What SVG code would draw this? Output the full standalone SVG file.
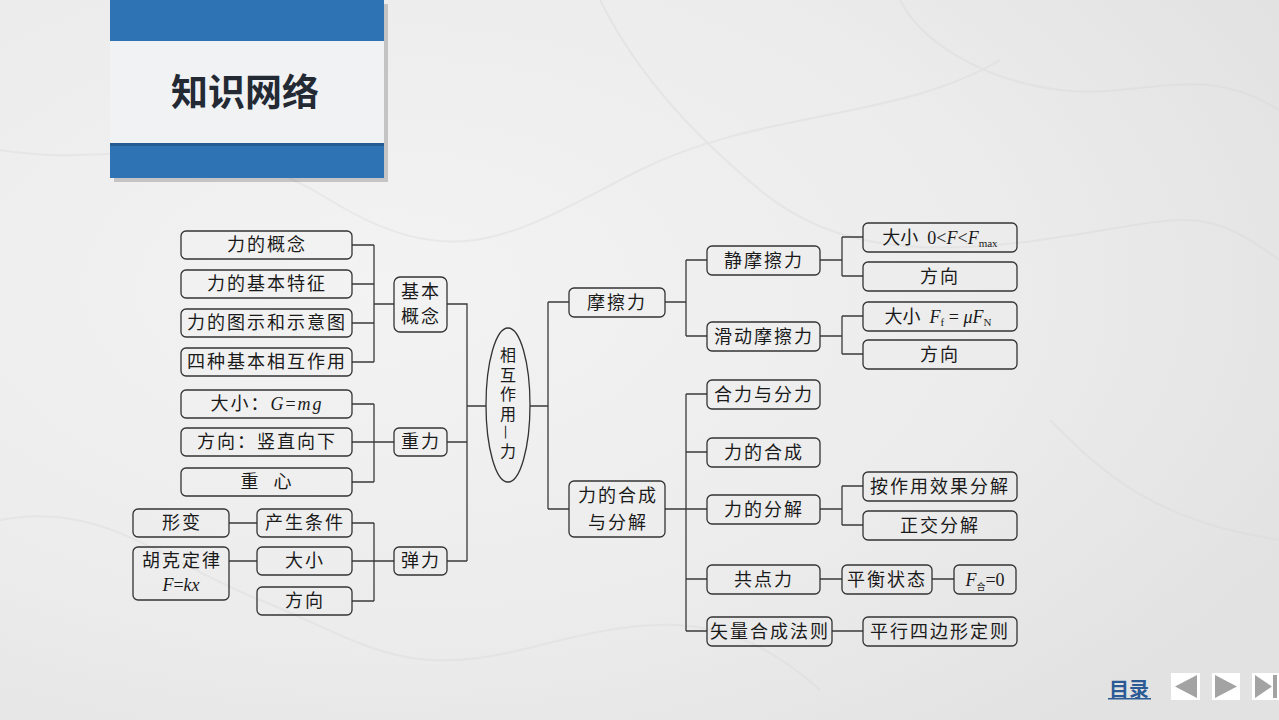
<svg xmlns="http://www.w3.org/2000/svg" width="1279" height="720" viewBox="0 0 1279 720">
<defs>
<radialGradient id="bg1" cx="0.3" cy="0.4" r="0.8">
<stop offset="0" stop-color="#f3f3f3"/>
<stop offset="0.6" stop-color="#ececec"/>
<stop offset="1" stop-color="#e2e2e2"/>
</radialGradient>
<style>
.b{fill:none;stroke:#333;stroke-width:1.3}
.c{fill:none;stroke:#3a3a3a;stroke-width:1.3}
.t{font-family:"Liberation Serif","Noto Sans CJK SC",serif;font-size:18px;fill:#1a1a1a;text-anchor:middle;letter-spacing:2px}
.m{font-family:"Liberation Serif",serif;font-style:italic}
.vein{fill:none;stroke:#d6d6d6;stroke-width:2}
</style>
</defs>
<rect width="1279" height="720" fill="url(#bg1)"/>
<g opacity="0.35">
<path class="vein" d="M0 150 C120 170 200 120 330 200 S520 230 640 170 S900 120 1000 60"/>
<path class="vein" d="M600 0 C640 80 700 140 760 190 S900 260 1040 240 S1200 200 1279 260"/>
<path class="vein" d="M0 520 C100 500 160 560 260 600 S400 680 520 650 S720 600 820 690"/>
<path class="vein" d="M1050 420 C1100 470 1150 520 1279 540"/>
<path class="vein" d="M900 0 C920 40 980 80 1060 90 S1200 60 1279 110"/>
</g>

<g id="header">
<rect x="114" y="4" width="274" height="178" fill="#000" opacity="0.18"/>
<rect x="110" y="0" width="274" height="41" fill="#2e74b5"/>
<rect x="110" y="41" width="274" height="102" fill="#f1f2f4"/>
<rect x="110" y="143" width="274" height="35" fill="#2e74b5"/>
<rect x="110" y="143" width="274" height="3" fill="#1f4f7d" opacity="0.6"/>
<text x="245" y="106" font-family="'Noto Sans CJK SC','Noto Sans',sans-serif" font-size="37" font-weight="bold" fill="#232a34" text-anchor="middle">知识网络</text>
</g>

<g id="connectors">
<path class="c" d="M352 245H374M352 284H374M352 323H374M352 362H374M374 245V362M374 304H394"/>
<path class="c" d="M447 304H467V561M447 442H467M447 561H467"/>
<path class="c" d="M352 404H374M352 442H394M352 482H374M374 404V482"/>
<path class="c" d="M229 523H257M229 561H257M352 523H374M352 561H394M352 601H374M374 523V601"/>
<path class="c" d="M467 406H486M530 406H548M548 302V509M548 302H569M548 509H569"/>
<path class="c" d="M665 302H686M686 260V336M686 260H707M686 336H707"/>
<path class="c" d="M820 260H842M842 237V276M842 237H863M842 276H863"/>
<path class="c" d="M820 336H842M842 316V354M842 316H863M842 354H863"/>
<path class="c" d="M665 509H686M686 394V631M686 394H707M686 452H707M686 509H707M686 579H707M686 631H707"/>
<path class="c" d="M820 509H842M842 486V525M842 486H863M842 525H863"/>
<path class="c" d="M820 579H842M932 579H954M832 631H863"/>
</g>

<g id="n-gainian"><rect class="b" x="181" y="231" width="171" height="28" rx="5"/><text class="t" x="267" y="251">力的概念</text></g>
<g id="n-tezheng"><rect class="b" x="181" y="270" width="171" height="28" rx="5"/><text class="t" x="267" y="290">力的基本特征</text></g>
<g id="n-tushi"><rect class="b" x="181" y="309" width="171" height="28" rx="5"/><text class="t" x="267" y="329">力的图示和示意图</text></g>
<g id="n-sizhong"><rect class="b" x="181" y="348" width="171" height="28" rx="5"/><text class="t" x="267" y="368">四种基本相互作用</text></g>
<g id="n-jiben"><rect class="b" x="394" y="277" width="53" height="55" rx="6"/><text class="t" x="421" y="298">基本</text><text class="t" x="421" y="323">概念</text></g>

<g id="n-G"><rect class="b" x="181" y="390" width="171" height="28" rx="5"/><text class="t" x="267" y="410">大小：<tspan class="m">G</tspan>=<tspan class="m">mg</tspan></text></g>
<g id="n-fangxiang1"><rect class="b" x="181" y="428" width="171" height="28" rx="5"/><text class="t" x="267" y="448">方向：竖直向下</text></g>
<g id="n-zhongxin"><rect class="b" x="181" y="468" width="171" height="28" rx="5"/><text class="t" x="267" y="488" xml:space="preserve">重  心</text></g>
<g id="n-zhongli"><rect class="b" x="394" y="428" width="53" height="28" rx="5"/><text class="t" x="421" y="448">重力</text></g>

<g id="n-xingbian"><rect class="b" x="133" y="509" width="96" height="28" rx="5"/><text class="t" x="182" y="529">形变</text></g>
<g id="n-huke"><rect class="b" x="133" y="547" width="96" height="53" rx="5"/><text class="t" x="182" y="567">胡克定律</text><text class="t" x="181" y="591" style="letter-spacing:0"><tspan class="m">F</tspan>=<tspan class="m">kx</tspan></text></g>
<g id="n-chansheng"><rect class="b" x="257" y="509" width="95" height="28" rx="5"/><text class="t" x="305" y="529">产生条件</text></g>
<g id="n-daxiao"><rect class="b" x="257" y="547" width="95" height="28" rx="5"/><text class="t" x="305" y="567">大小</text></g>
<g id="n-fangxiang2"><rect class="b" x="257" y="587" width="95" height="28" rx="5"/><text class="t" x="305" y="607">方向</text></g>
<g id="n-tanli"><rect class="b" x="394" y="547" width="53" height="28" rx="5"/><text class="t" x="421" y="567">弹力</text></g>

<g id="n-center"><ellipse class="b" cx="508" cy="405" rx="22" ry="77"/>
<text x="508" y="347" writing-mode="tb" font-family="'Noto Sans CJK SC',sans-serif" font-size="16" letter-spacing="3.5" fill="#1a1a1a">相互作用—力</text></g>

<g id="n-moca"><rect class="b" x="569" y="288" width="96" height="29" rx="5"/><text class="t" x="617" y="309">摩擦力</text></g>
<g id="n-hecheng"><rect class="b" x="569" y="481" width="96" height="56" rx="5"/><text class="t" x="618" y="502">力的合成</text><text class="t" x="618" y="529">与分解</text></g>

<g id="n-jingmoca"><rect class="b" x="707" y="246" width="113" height="29" rx="5"/><text class="t" x="764" y="267">静摩擦力</text></g>
<g id="n-huadong"><rect class="b" x="707" y="322" width="113" height="29" rx="5"/><text class="t" x="764" y="343">滑动摩擦力</text></g>
<g id="n-fmax"><rect class="b" x="863" y="223" width="154" height="29" rx="5"/><text class="t" x="940" y="244" style="letter-spacing:0" xml:space="preserve">大小  0&lt;<tspan class="m">F</tspan>&lt;<tspan class="m">F</tspan><tspan font-size="11" dy="3">max</tspan></text></g>
<g id="n-fx3"><rect class="b" x="863" y="262" width="154" height="29" rx="5"/><text class="t" x="940" y="283">方向</text></g>
<g id="n-ff"><rect class="b" x="863" y="302" width="154" height="29" rx="5"/><text class="t" x="938" y="323" style="letter-spacing:0" xml:space="preserve">大小  <tspan class="m">F</tspan><tspan font-size="11" dy="3">f</tspan><tspan dy="-3"> = </tspan><tspan class="m">μF</tspan><tspan font-size="11" dy="3">N</tspan></text></g>
<g id="n-fx4"><rect class="b" x="863" y="340" width="154" height="29" rx="5"/><text class="t" x="940" y="361">方向</text></g>

<g id="n-helifen"><rect class="b" x="707" y="380" width="113" height="29" rx="5"/><text class="t" x="764" y="401">合力与分力</text></g>
<g id="n-lihecheng"><rect class="b" x="707" y="438" width="113" height="29" rx="5"/><text class="t" x="764" y="459">力的合成</text></g>
<g id="n-fenjie"><rect class="b" x="707" y="495" width="113" height="29" rx="5"/><text class="t" x="764" y="516">力的分解</text></g>
<g id="n-xiaoguo"><rect class="b" x="863" y="472" width="154" height="29" rx="5"/><text class="t" x="940" y="493">按作用效果分解</text></g>
<g id="n-zhengjiao"><rect class="b" x="863" y="511" width="154" height="29" rx="5"/><text class="t" x="940" y="532">正交分解</text></g>
<g id="n-gongdian"><rect class="b" x="707" y="565" width="113" height="29" rx="5"/><text class="t" x="764" y="586">共点力</text></g>
<g id="n-pingheng"><rect class="b" x="842" y="565" width="90" height="29" rx="5"/><text class="t" x="887" y="586">平衡状态</text></g>
<g id="n-fhe"><rect class="b" x="954" y="565" width="62" height="29" rx="5"/><text class="t" x="985" y="586" style="letter-spacing:0"><tspan class="m">F</tspan><tspan font-size="9" dy="4" font-family="'Noto Sans CJK SC',sans-serif">合</tspan><tspan dy="-4">=0</tspan></text></g>
<g id="n-shiliang"><rect class="b" x="707" y="617" width="125" height="29" rx="5"/><text class="t" x="770" y="638">矢量合成法则</text></g>
<g id="n-pingxing"><rect class="b" x="863" y="617" width="154" height="29" rx="5"/><text class="t" x="940" y="638">平行四边形定则</text></g>

<g id="nav">
<text x="1129" y="697" font-family="'Noto Sans CJK SC',sans-serif" font-size="20" font-weight="bold" fill="#2b5a95" text-anchor="middle">目录</text>
<rect x="1108" y="698" width="43" height="1.5" fill="#2b5a95"/>
<rect x="1171" y="673" width="29" height="27" fill="#fff"/>
<path d="M1175 686.5L1197 675V698Z" fill="#a3a3a3"/>
<rect x="1212" y="673" width="28" height="27" fill="#fff"/>
<path d="M1237 686.5L1215 675V698Z" fill="#a3a3a3"/>
<rect x="1252" y="673" width="27" height="27" fill="#fff"/>
<path d="M1272 686.5L1255 675V698Z" fill="#a3a3a3"/>
<rect x="1273" y="675" width="4" height="23" fill="#a3a3a3"/>
</g>
</svg>
